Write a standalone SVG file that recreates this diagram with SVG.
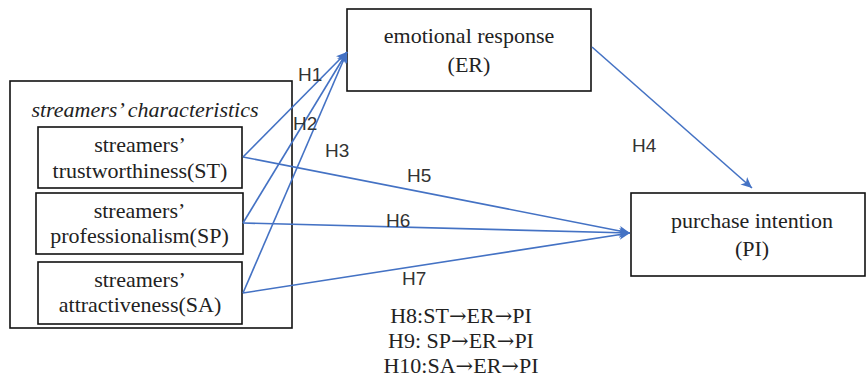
<svg xmlns="http://www.w3.org/2000/svg" width="866" height="381" viewBox="0 0 866 381">
<style>
.box{fill:#fff;stroke:#111;stroke-width:1.6}
.t{font-family:"Liberation Serif","Times New Roman",serif;font-size:22px;fill:#222;text-anchor:middle}
.it{font-style:italic}
.ar{font-family:"DejaVu Serif","Liberation Serif",serif;font-size:21px}
.lbl{font-family:"Liberation Sans",Arial,sans-serif;font-size:19px;fill:#333}
.c{stroke:#4472C4;stroke-width:1.6;fill:none}
</style>
<defs>
<marker id="ah" markerUnits="userSpaceOnUse" markerWidth="12" markerHeight="10" refX="11" refY="5" orient="auto">
<path d="M0,0 L11,5 L0,10 L3,5 Z" fill="#4472C4"/>
</marker>
</defs>
<rect width="866" height="381" fill="#fff"/>
<g id="group-sc">
<rect class="box" x="10" y="81" width="282" height="247"/>
<text class="t it" x="145" y="117">streamers’ characteristics</text>
</g>
<g id="node-st">
<rect class="box" x="38" y="127" width="204" height="61"/>
<text class="t" x="140" y="152">streamers’</text>
<text class="t" x="140" y="178">trustworthiness(ST)</text>
</g>
<g id="node-sp">
<rect class="box" x="36" y="193" width="207" height="61"/>
<text class="t" x="139.5" y="218">streamers’</text>
<text class="t" x="139.5" y="243">professionalism(SP)</text>
</g>
<g id="node-sa">
<rect class="box" x="38" y="262" width="204" height="62"/>
<text class="t" x="140" y="287">streamers’</text>
<text class="t" x="140" y="312">attractiveness(SA)</text>
</g>
<g id="node-er">
<rect class="box" x="347" y="9" width="244" height="82"/>
<text class="t" x="469" y="43">emotional response</text>
<text class="t" x="469" y="72">(ER)</text>
</g>
<g id="node-pi">
<rect class="box" x="631" y="193" width="234" height="83"/>
<text class="t" x="752" y="228">purchase intention</text>
<text class="t" x="752" y="256">(PI)</text>
</g>
<g id="connectors">
<line class="c" x1="243" y1="157" x2="347" y2="52" marker-end="url(#ah)"/>
<line class="c" x1="243" y1="223" x2="347" y2="52" marker-end="url(#ah)"/>
<line class="c" x1="243" y1="293" x2="347" y2="52" marker-end="url(#ah)"/>
<line class="c" x1="592" y1="47" x2="752" y2="188" marker-end="url(#ah)"/>
<line class="c" x1="243" y1="157" x2="630" y2="233" marker-end="url(#ah)"/>
<line class="c" x1="243" y1="223" x2="630" y2="233" marker-end="url(#ah)"/>
<line class="c" x1="243" y1="293" x2="630" y2="233" marker-end="url(#ah)"/>
</g>
<g id="labels">
<text class="lbl" x="298" y="81">H1</text>
<text class="lbl" x="293" y="130">H2</text>
<text class="lbl" x="325" y="157">H3</text>
<text class="lbl" x="632" y="152">H4</text>
<text class="lbl" x="407" y="182">H5</text>
<text class="lbl" x="386" y="227">H6</text>
<text class="lbl" x="402" y="285">H7</text>
</g>
<g id="notes">
<text class="t" x="461" y="323">H8:ST<tspan class="ar">→</tspan>ER<tspan class="ar">→</tspan>PI</text>
<text class="t" x="461" y="348">H9: SP<tspan class="ar">→</tspan>ER<tspan class="ar">→</tspan>PI</text>
<text class="t" x="461" y="373">H10:SA<tspan class="ar">→</tspan>ER<tspan class="ar">→</tspan>PI</text>
</g>
</svg>
